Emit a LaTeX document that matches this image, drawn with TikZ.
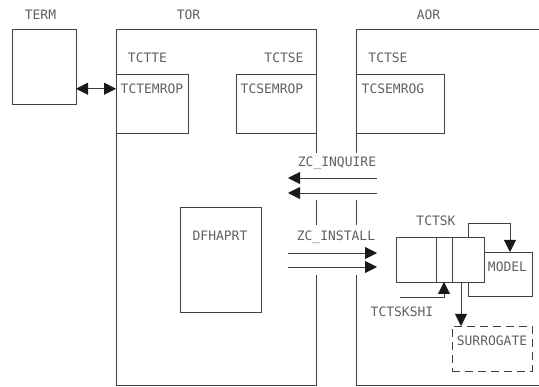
\documentclass[tikz,border=0pt]{standalone}
\usepackage{fontspec}
\newfontfamily\diagfont{DejaVu Sans Mono}
\usetikzlibrary{arrows.meta,positioning}
\definecolor{framegray}{gray}{0.25}
\definecolor{labelgray}{gray}{0.38}

\begin{document}
\begin{tikzpicture}[
    x=1pt, y=-1pt,
    box/.style={rectangle, draw=framegray, line width=0.9pt, fill=white, inner sep=0pt, outer sep=0pt},
    txt/.style={font=\diagfont\fontsize{13}{13}\selectfont, text=labelgray, inner sep=0pt, anchor=base},
    frame/.style={draw=framegray, line width=0.9pt},
    flow/.style={draw=framegray, line width=0.9pt, -{Triangle[length=12pt,width=12pt,color=black!90]}},
    dflow/.style={draw=framegray, line width=0.9pt, {Triangle[length=12pt,width=12pt,color=black!90]}-{Triangle[length=12pt,width=12pt,color=black!90]}}
]
    \useasboundingbox (0,0) rectangle (539,387);

    % Region frames, broken where the flows cross
    \draw[frame] (316,153) -- (316,29) -- (116,29) -- (116,385) -- (316,385) -- (316,275);
    \draw[frame] (316,200) -- (316,225);
    \draw[frame] (356,153) -- (356,29) -- (539,29);
    \draw[frame] (356,200) -- (356,225);
    \draw[frame] (356,275) -- (356,385) -- (539,385);

    % Region titles
    \node[txt] (termlbl) at (40.5,19.5) {TERM};
    \node[txt] (torlbl) at (188.5,19.5) {TOR};
    \node[txt] (aorlbl) at (428.5,19.5) {AOR};

    % Boxes
    \node[box, minimum width=64, minimum height=75] (term) at (44,66.5) {};
    \node[box, minimum width=72, minimum height=59] (tctemrop) at (152,103.5) {};
    \node[box, minimum width=80, minimum height=59] (tcsemrop) at (276,103.5) {};
    \node[box, minimum width=88, minimum height=59] (tcsemrog) at (400,103.5) {};
    \node[box, minimum width=81, minimum height=105] (dfhaprt) at (220.5,259.5) {};
    \node[box, minimum width=64, minimum height=44] (model) at (500,274) {};
    \node[box, dashed, dash pattern=on 8pt off 5pt, minimum width=80, minimum height=45] (surrogate) at (492,348.5) {};

    % TCTSK table
    \node[box, minimum width=40, minimum height=45] (tskA) at (416,259.5) {};
    \node[box, minimum width=16, minimum height=45, right=0pt of tskA] (tskB) {};
    \node[box, minimum width=32, minimum height=45, right=0pt of tskB] (tskC) {};

    % Box texts
    \node[txt] (tcttelbl) at (147.5,63) {TCTTE};
    \node[txt] (tctselbl) at (284,63) {TCTSE};
    \node[txt] (aorselbl) at (388,63) {TCTSE};
    \node[txt] (tctemroptxt) at (152,93.5) {TCTEMROP};
    \node[txt] (tcsemroptxt) at (272,93.5) {TCSEMROP};
    \node[txt] (tcsemrogtxt) at (393,93.5) {TCSEMROG};
    \node[txt] (inquirelbl) at (337,167) {ZC\_INQUIRE};
    \node[txt] (dfhaprttxt) at (220,241) {DFHAPRT};
    \node[txt] (installlbl) at (336,241) {ZC\_INSTALL};
    \node[txt] (tctsklbl) at (436,226) {TCTSK};
    \node[txt] (modeltxt) at (507.5,272) {MODEL};
    \node[txt] (tctskshilbl) at (402,317) {TCTSKSHI};
    \node[txt] (surrogatetxt) at (492,345.5) {SURROGATE};

    % Terminal link
    \draw[dflow] (term.east |- tctemroptxt) -- (tctemrop.west |- tctemroptxt);

    % Flows between regions
    \foreach \n/\y in {1/178,2/193} {
        \coordinate (inqa\n) at (377,\y);
        \coordinate (inqb\n) at (288,\y);
        \draw[flow] (inqa\n) -- (inqb\n);
    }
    \foreach \n/\y in {1/253,2/267} {
        \coordinate (insa\n) at (288,\y);
        \coordinate (insb\n) at (377,\y);
        \draw[flow] (insa\n) -- (insb\n);
    }

    % TCTSK links
    \draw[flow] (tskC.north) -- ++(0,-14) -| ([xshift=10pt]model.north);
    \coordinate (shistart) at (400,297);
    \draw[flow] (shistart) -| (tskB.south);
    \draw[flow] ([xshift=-7pt]tskC.south) coordinate (surtop) -- (surtop |- surrogate.north);
\end{tikzpicture}
\end{document}
